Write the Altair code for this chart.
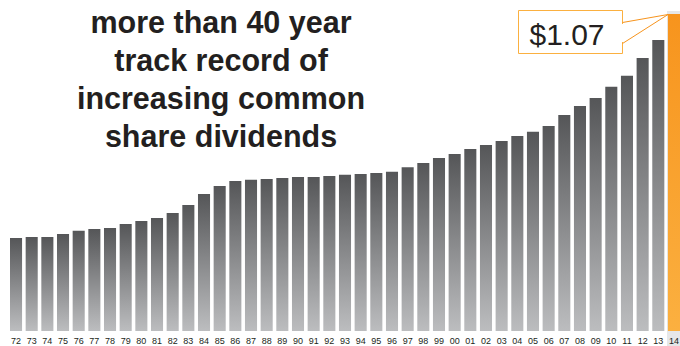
import altair as alt
import pandas as pd

years = ["72", "73", "74", "75", "76", "77", "78", "79", "80", "81", "82",
         "83", "84", "85", "86", "87", "88", "89", "90", "91", "92", "93",
         "94", "95", "96", "97", "98", "99", "00", "01", "02", "03", "04",
         "05", "06", "07", "08", "09", "10", "11", "12", "13", "14"]
dividends = [0.314, 0.317, 0.317, 0.327, 0.338, 0.344, 0.348,
             0.361, 0.371, 0.381, 0.398, 0.425, 0.462, 0.489,
             0.506, 0.510, 0.513, 0.516, 0.520, 0.520, 0.523,
             0.527, 0.530, 0.533, 0.537, 0.553, 0.567, 0.584,
             0.597, 0.614, 0.628, 0.641, 0.658, 0.672, 0.692,
             0.729, 0.759, 0.786, 0.824, 0.861, 0.921, 0.982,
             1.07]
highlight_year = "14"
title_lines = ["more than 40 year", "track record of",
               "increasing common", "share dividends"]

df = pd.DataFrame({"year": years, "value": dividends})
one = pd.DataFrame({"k": [0]})

gray_grad = alt.Gradient(
    gradient="linear", x1=0, x2=0, y1=0, y2=1,
    stops=[alt.GradientStop(color="#555658", offset=0),
           alt.GradientStop(color="#bcbdbf", offset=1)])
orange_grad = alt.Gradient(
    gradient="linear", x1=0, x2=0, y1=0, y2=1,
    stops=[alt.GradientStop(color="#f7941d", offset=0),
           alt.GradientStop(color="#fbb040", offset=1)])

x_enc = alt.X("year:N", sort=years,
              scale=alt.Scale(paddingInner=0.23, paddingOuter=0),
              axis=alt.Axis(title=None, labelAngle=0, labelFontSize=9,
                            labelFont="Liberation Sans", labelColor="#231f20",
                            labelFontWeight=500,
                            ticks=False, domain=False, grid=False,
                            labelPadding=5, zindex=2, labelOverlap=False))
y_enc = alt.Y("value:Q", scale=alt.Scale(domain=[0, 1.117], nice=False),
              axis=None)

base = alt.Chart(df)
is_hl = f"datum.year == '{highlight_year}'"

highlight = base.transform_filter(is_hl).mark_bar(
    color="#e6e7e8", width=alt.RelativeBandSize(1.15)
).encode(x=x_enc, y=alt.value(11), y2=alt.value(346))

gray_bars = base.transform_filter(f"!({is_hl})").mark_bar(
    color=gray_grad).encode(x=x_enc, y=y_enc)
orange_bar = base.transform_filter(is_hl).mark_bar(
    color=orange_grad).encode(x=x_enc, y=y_enc)

box = alt.Chart(one).mark_rect(
    fill="white", stroke="#fbb040", strokeWidth=1
).encode(x=alt.value(508.5), x2=alt.value(612.5),
         y=alt.value(10.5), y2=alt.value(53.5))
gap = alt.Chart(one).mark_rule(color="white", strokeWidth=2).encode(
    x=alt.value(612.5), y=alt.value(24), y2=alt.value(42))
ptr1 = alt.Chart(one).mark_rule(color="#f7941d", strokeWidth=1).encode(
    x=alt.value(612.5), y=alt.value(22.5), x2=alt.value(658), y2=alt.value(14.5))
ptr2 = alt.Chart(one).mark_rule(color="#f7941d", strokeWidth=1).encode(
    x=alt.value(612.5), y=alt.value(43.5), x2=alt.value(658), y2=alt.value(14.5))

callout = base.transform_filter(is_hl).transform_calculate(
    label="'$' + format(datum.value, '.2f')"
).mark_text(fontSize=30, font="Liberation Sans", align="center",
            baseline="alphabetic", color="#231f20"
).encode(text="label:N", x=alt.value(557), y=alt.value(45))

title = alt.Chart(one).mark_text(
    text=title_lines, fontSize=30.5, fontWeight="bold", font="Liberation Sans",
    align="center", baseline="alphabetic", lineHeight=38, color="#231f20"
).encode(x=alt.value(211), y=alt.value(33))

chart = alt.layer(
    highlight, gray_bars, orange_bar, box, gap, ptr1, ptr2, callout, title
).properties(
    width=670, height=331, autosize="none",
    padding={"left": 10, "top": 0, "right": 0, "bottom": 15},
    background="white"
).configure_view(stroke=None)

chart.save("out.html", embed_options={"renderer": "svg", "actions": False})
